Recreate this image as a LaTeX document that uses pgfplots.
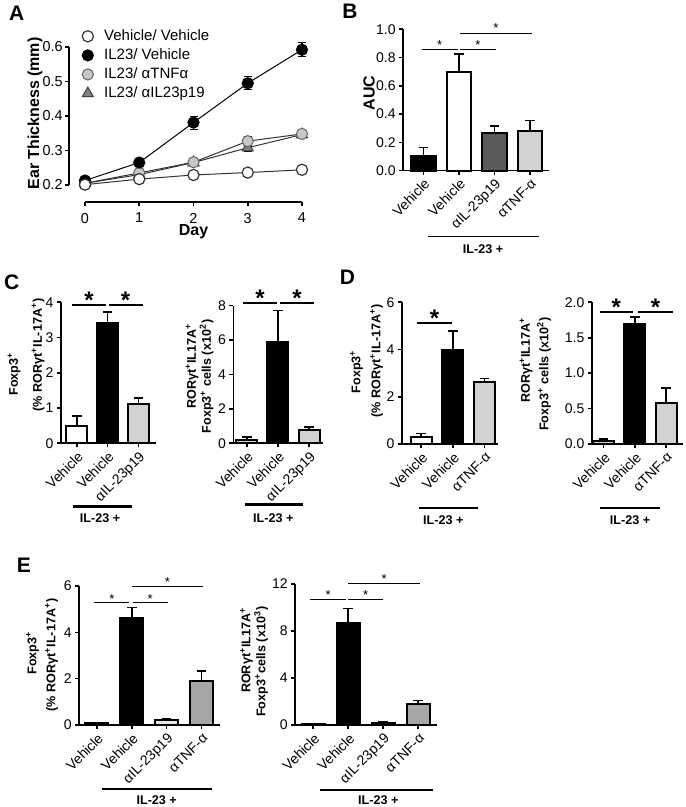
\documentclass[border=0pt]{standalone}
\usepackage{pgfplots}
\pgfplotsset{compat=1.18}
\usepackage{fontspec}
\setmainfont{Liberation Sans}
\newcommand{\tkA}{\fontsize{7.2}{8.5}\selectfont}
\newcommand{\lgA}{\fontsize{7.5}{8.5}\selectfont}
\newcommand{\tk}{\fontsize{7}{8}\selectfont}
\newcommand{\lbA}{\fontsize{8}{9}\selectfont\bfseries}
\newcommand{\lb}{\fontsize{6.3}{7}\selectfont\bfseries}
\newcommand{\pl}{\fontsize{10.5}{12}\selectfont\bfseries}
\newcommand{\sst}{\fontsize{6.5}{7}\selectfont}
\newcommand{\bst}{\fontsize{12}{12}\selectfont\bfseries}
\definecolor{lg}{HTML}{D2D2D2}
\definecolor{dg}{HTML}{5A5A5A}
\definecolor{mg}{HTML}{A6A6A6}
\definecolor{vlg}{HTML}{E6E6E6}
\pgfplotsset{
  prism/.style={scale only axis, anchor=south west, clip=false,
    axis x line*=bottom, axis y line*=left, tick align=outside,
    major tick length=2pt, axis line style={line width=0.8pt, black},
    every tick/.style={line width=0.8pt, black},
    /pgf/number format/assume math mode=true,
    tick label style={font=\tk}, ymin=0,
    xticklabel style={rotate=45, anchor=north east, inner sep=1pt},
    yticklabel style={inner sep=1.5pt}},
  bs/.style={ybar, bar width=#1, draw=black, line width=1pt,
    error bars/y dir=plus, error bars/y explicit,
    error bars/error bar style={line width=0.8pt, black, solid},
    error bars/error mark options={rotate=90, mark size=2.4pt, line width=0.8pt, black}},
  dec/.style={yticklabel style={/pgf/number format/.cd, fixed, fixed zerofill, precision=1}},
}
\newcommand{\sigs}[4]{\draw[line width=0.5pt] (axis cs:#1,#3) -- (axis cs:#2,#3);
  \node[font=\sst, inner sep=0pt, yshift=-1.4pt] at (axis cs:{(#1+#2)/2},#4) {*};}
\newcommand{\sigb}[4]{\draw[line width=1pt] (axis cs:#1,#3) -- (axis cs:#2,#3);
  \node[font=\bst, inner sep=0pt, yshift=-1.2pt] at (axis cs:{(#1+#2)/2},#4) {*};}
\begin{document}
\begin{tikzpicture}
\useasboundingbox (0,0) rectangle (342.5pt,403.5pt);

% ---------------- Panel A : x axis (detached)
\begin{axis}[scale only axis, at={(42.5pt,302.5pt)}, anchor=south west,
  width=108.5pt, height=10pt, xmin=0, xmax=4, ymin=0, ymax=1,
  axis x line*=bottom, axis y line=none, tick align=outside, major tick length=2pt,
  axis line style={line width=0.8pt, black}, every tick/.style={line width=0.8pt, black},
  xtick={0,1,2,3,4}, /pgf/number format/assume math mode=true,
  tick label style={font=\tkA}]
\end{axis}

% ---------------- Panel A : data and y axis
\begin{axis}[scale only axis, at={(34.5pt,311pt)}, anchor=south west,
  width=116.5pt, height=69pt, xmin=-0.295, xmax=4, ymin=0.2, ymax=0.6, clip=false,
  axis y line*=left, axis x line=none,
  tick align=outside, major tick length=2pt, axis line style={line width=0.8pt, black},
  every tick/.style={line width=0.8pt,black},
  ytick={0.2,0.3,0.4,0.5,0.6},
  yticklabel style={inner sep=1pt, /pgf/number format/.cd, fixed, fixed zerofill, precision=1},
  /pgf/number format/assume math mode=true, tick label style={font=\tkA},
  reverse legend,
  legend style={draw=none, fill=none, font=\lgA, at={(axis description cs:0.055,1.145)},
    anchor=north west, inner sep=0pt, row sep=0.6pt, nodes={inner sep=1pt}},
  legend cell align=left,
  legend image code/.code={\draw[#1, only marks] plot coordinates {(0.1cm,0cm)}; \path (9.8pt,0pt);}]
\addplot[black!80, line width=0.5pt, mark=triangle*, mark size=3.2pt,
  mark options={solid, fill=black!50, draw=black!75, line width=0.5pt},
  error bars/y dir=both, error bars/y explicit,
  error bars/error bar style={line width=0.6pt, black},
  error bars/error mark options={rotate=90, mark size=2pt, black}]
  coordinates {(0,0.205) +- (0,0.004) (1,0.230) +- (0,0.005) (2,0.265) +- (0,0.006) (3,0.308) +- (0,0.010) (4,0.346) +- (0,0.006)};
\addlegendentry{IL23/ αIL23p19}
\addplot[black!80, line width=0.5pt, mark=*, mark size=2.8pt,
  mark options={solid, fill=black!22, draw=black!60, line width=0.5pt},
  error bars/y dir=both, error bars/y explicit,
  error bars/error bar style={line width=0.6pt, black},
  error bars/error mark options={rotate=90, mark size=2pt, black}]
  coordinates {(0,0.205) +- (0,0.004) (1,0.235) +- (0,0.005) (2,0.266) +- (0,0.006) (3,0.327) +- (0,0.014) (4,0.348) +- (0,0.006)};
\addlegendentry{IL23/ αTNFα}
\addplot[black, line width=0.5pt, mark=*, mark size=2.8pt,
  mark options={solid, fill=black, draw=black, line width=0.5pt},
  error bars/y dir=both, error bars/y explicit,
  error bars/error bar style={line width=0.6pt, black},
  error bars/error mark options={rotate=90, mark size=2pt, black}]
  coordinates {(0,0.213) +- (0,0.004) (1,0.265) +- (0,0.006) (2,0.381) +- (0,0.019) (3,0.495) +- (0,0.019) (4,0.592) +- (0,0.02)};
\addlegendentry{IL23/ Vehicle}
\addplot[black!80, line width=0.5pt, mark=*, mark size=2.8pt,
  mark options={solid, fill=white, draw=black!80, line width=0.6pt}]
  coordinates {(0,0.201) (1,0.217) (2,0.229) (3,0.236) (4,0.244)};
\addlegendentry{Vehicle/ Vehicle}
\end{axis}

% ---------------- Panel B
\begin{axis}[prism, dec, at={(201.5pt,318.2pt)}, width=73pt, height=70.7pt,
  xmin=-0.57, xmax=3.53, ymax=1, xtick={0,1,2,3},
  xticklabels={Vehicle,Vehicle,αIL-23p19,αTNF-α}, ytick={0,0.2,0.4,0.6,0.8,1}]
\addplot[bs=12.25pt, fill=black] coordinates {(0,0.106) +- (0,0.057)};
\addplot[bs=12.25pt, fill=white] coordinates {(1,0.696) +- (0,0.127)};
\addplot[bs=12.25pt, fill=dg] coordinates {(2,0.269) +- (0,0.047)};
\addplot[bs=12.25pt, fill=lg] coordinates {(3,0.283) +- (0,0.071)};
\sigs{-0.05}{0.97}{0.859}{0.905}
\sigs{1.03}{2.04}{0.859}{0.905}
\sigs{1.03}{3.05}{0.972}{1.025}
\end{axis}

% ---------------- Panel C left
\begin{axis}[prism, at={(30.35pt,181.85pt)}, width=47.5pt, height=70.5pt,
  xmin=-0.52, xmax=2.56, ymax=4, xtick={0,1,2},
  xticklabels={Vehicle,Vehicle,αIL-23p19}, ytick={0,1,2,3,4}]
\addplot[bs=10.5pt, fill=white] coordinates {(0,0.50) +- (0,0.27)};
\addplot[bs=10.5pt, fill=black] coordinates {(1,3.40) +- (0,0.32)};
\addplot[bs=10.5pt, fill=lg] coordinates {(2,1.12) +- (0,0.16)};
\sigb{-0.16}{0.95}{3.92}{4.12}
\sigb{1.03}{2.14}{3.92}{4.12}
\end{axis}

% ---------------- Panel C right
\begin{axis}[prism, at={(116.65pt,181.85pt)}, width=45pt, height=68.8pt,
  xmin=-0.43, xmax=2.45, ymax=8, xtick={0,1,2},
  xticklabels={Vehicle,Vehicle,αIL-23p19}, ytick={0,2,4,6,8}]
\addplot[bs=10.5pt, fill=lg] coordinates {(0,0.19) +- (0,0.19)};
\addplot[bs=10.5pt, fill=black] coordinates {(1,5.91) +- (0,1.80)};
\addplot[bs=10.5pt, fill=lg] coordinates {(2,0.78) +- (0,0.15)};
\sigb{-0.12}{0.97}{8.14}{8.57}
\sigb{1.07}{2.15}{8.14}{8.57}
\end{axis}

% ---------------- Panel D left
\begin{axis}[prism, at={(200.85pt,181.5pt)}, width=48.3pt, height=70.85pt,
  xmin=-0.61, xmax=2.43, ymax=6, xtick={0,1,2},
  xticklabels={Vehicle,Vehicle,αTNF-α}, ytick={0,2,4,6}]
\addplot[bs=10.5pt, fill=white] coordinates {(0,0.31) +- (0,0.14)};
\addplot[bs=10.5pt, fill=black] coordinates {(1,3.98) +- (0,0.80)};
\addplot[bs=10.5pt, fill=lg] coordinates {(2,2.61) +- (0,0.17)};
\sigb{-0.14}{0.98}{5.14}{5.42}
\end{axis}

% ---------------- Panel D right
\begin{axis}[prism, dec, at={(295.85pt,181.5pt)}, width=45.8pt, height=70.85pt,
  xmin=-0.38, xmax=2.55, ymax=2, xtick={0,1,2},
  xticklabels={Vehicle,Vehicle,αTNF-α}, ytick={0,0.5,1,1.5,2}]
\addplot[bs=10.5pt, fill=lg] coordinates {(0,0.047) +- (0,0.02)};
\addplot[bs=10.5pt, fill=black] coordinates {(1,1.70) +- (0,0.09)};
\addplot[bs=10.5pt, fill=lg] coordinates {(2,0.574) +- (0,0.22)};
\sigb{-0.13}{0.95}{1.867}{1.96}
\sigb{1.10}{2.22}{1.867}{1.96}
\end{axis}

% ---------------- Panel E left
\begin{axis}[prism, at={(39.5pt,41pt)}, width=70.5pt, height=69.5pt,
  xmin=-0.51, xmax=3.53, ymax=6, xtick={0,1,2,3},
  xticklabels={Vehicle,Vehicle,αIL-23p19,αTNF-α}, ytick={0,2,4,6}]
\addplot[bs=11.65pt, fill=white] coordinates {(0,0.07) +- (0,0.02)};
\addplot[bs=11.65pt, fill=black] coordinates {(1,4.60) +- (0,0.48)};
\addplot[bs=11.65pt, fill=vlg] coordinates {(2,0.22) +- (0,0.03)};
\addplot[bs=11.65pt, fill=mg] coordinates {(3,1.91) +- (0,0.42)};
\sigs{-0.07}{0.93}{5.28}{5.57}
\sigs{1.03}{2.03}{5.28}{5.57}
\sigs{1.02}{3.03}{5.97}{6.29}
\end{axis}

% ---------------- Panel E right
\begin{axis}[prism, at={(147.5pt,41pt)}, width=70.85pt, height=70.5pt,
  xmin=-0.52, xmax=3.53, ymax=12, xtick={0,1,2,3},
  xticklabels={Vehicle,Vehicle,αIL-23p19,αTNF-α}, ytick={0,4,8,12}]
\addplot[bs=11.65pt, fill=white] coordinates {(0,0.05) +- (0,0.02)};
\addplot[bs=11.65pt, fill=black] coordinates {(1,8.71) +- (0,1.22)};
\addplot[bs=11.65pt, fill=vlg] coordinates {(2,0.14) +- (0,0.09)};
\addplot[bs=11.65pt, fill=mg] coordinates {(3,1.76) +- (0,0.31)};
\sigs{-0.09}{0.94}{10.72}{11.34}
\sigs{1.00}{2.00}{10.72}{11.34}
\sigs{1.00}{3.05}{12.0}{12.68}
\end{axis}

% ---------------- labels
\node[font=\pl] at (8.35pt,396.7pt) {A};
\node[font=\pl] at (175pt,398pt) {B};
\node[font=\pl] at (5.85pt,262.25pt) {C};
\node[font=\pl] at (173.75pt,264.75pt) {D};
\node[font=\pl] at (12pt,121pt) {E};

\node[font=\lbA, rotate=90] at (17.5pt,346.75pt) {Ear Thickness (mm)};
\node[font=\lbA] at (96.75pt,287.5pt) {Day};
\node[font=\lbA, rotate=90] at (184.5pt,356.9pt) {AUC};

\node[font=\lb, rotate=90] at (7pt,216.5pt) {Foxp3\textsuperscript{+}};
\node[font=\lb, rotate=90] at (19pt,226pt) {(\% RORγt\textsuperscript{+}IL-17A\textsuperscript{+})};
\node[font=\lb, rotate=90] at (96pt,220.5pt) {RORγt\textsuperscript{+}IL17A\textsuperscript{+}};
\node[font=\lb, rotate=90] at (103.3pt,215.2pt) {Foxp3\textsuperscript{+} cells (x10\textsuperscript{2})};
\node[font=\lb, rotate=90] at (178.3pt,217.7pt) {Foxp3\textsuperscript{+}};
\node[font=\lb, rotate=90] at (188.3pt,223.1pt) {(\% RORγt\textsuperscript{+}IL-17A\textsuperscript{+})};
\node[font=\lb, rotate=90] at (263pt,223.5pt) {RORγt\textsuperscript{+}IL17A\textsuperscript{+}};
\node[font=\lb, rotate=90] at (272pt,216.5pt) {Foxp3\textsuperscript{+} cells (x10\textsuperscript{2})};
\node[font=\lb, rotate=90] at (16.25pt,77pt) {Foxp3\textsuperscript{+}};
\node[font=\lb, rotate=90] at (25.8pt,76pt) {(\% RORγt\textsuperscript{+}IL-17A\textsuperscript{+})};
\node[font=\lb, rotate=90] at (123.3pt,78.5pt) {RORγt\textsuperscript{+}IL17A\textsuperscript{+}};
\node[font=\lb, rotate=90] at (130.5pt,72.6pt) {Foxp3\textsuperscript{+}cells (x10\textsuperscript{3})};

% IL-23 + group lines
\draw[line width=0.6pt] (214.15pt,285.15pt) -- (269.65pt,285.15pt);
\node[font=\lb] at (241.5pt,279pt) {IL-23 +};
\draw[line width=1.2pt] (36.65pt,150.15pt) -- (65.85pt,150.15pt);
\node[font=\lb] at (50pt,144.35pt) {IL-23 +};
\draw[line width=1.2pt] (122.5pt,151.25pt) -- (151.65pt,151.25pt);
\node[font=\lb] at (136.65pt,144.5pt) {IL-23 +};
\draw[line width=1.2pt] (209.65pt,149.35pt) -- (239.15pt,149.35pt);
\node[font=\lb] at (221.65pt,143.5pt) {IL-23 +};
\draw[line width=1.2pt] (300pt,149.35pt) -- (330pt,149.35pt);
\node[font=\lb] at (315pt,143.5pt) {IL-23 +};
\draw[line width=0.6pt] (50.85pt,9pt) -- (105.85pt,9pt);
\node[font=\lb] at (78.35pt,3.5pt) {IL-23 +};
\draw[line width=0.6pt] (160pt,8.5pt) -- (216.65pt,8.5pt);
\node[font=\lb] at (189.15pt,3.5pt) {IL-23 +};
\end{tikzpicture}
\end{document}
